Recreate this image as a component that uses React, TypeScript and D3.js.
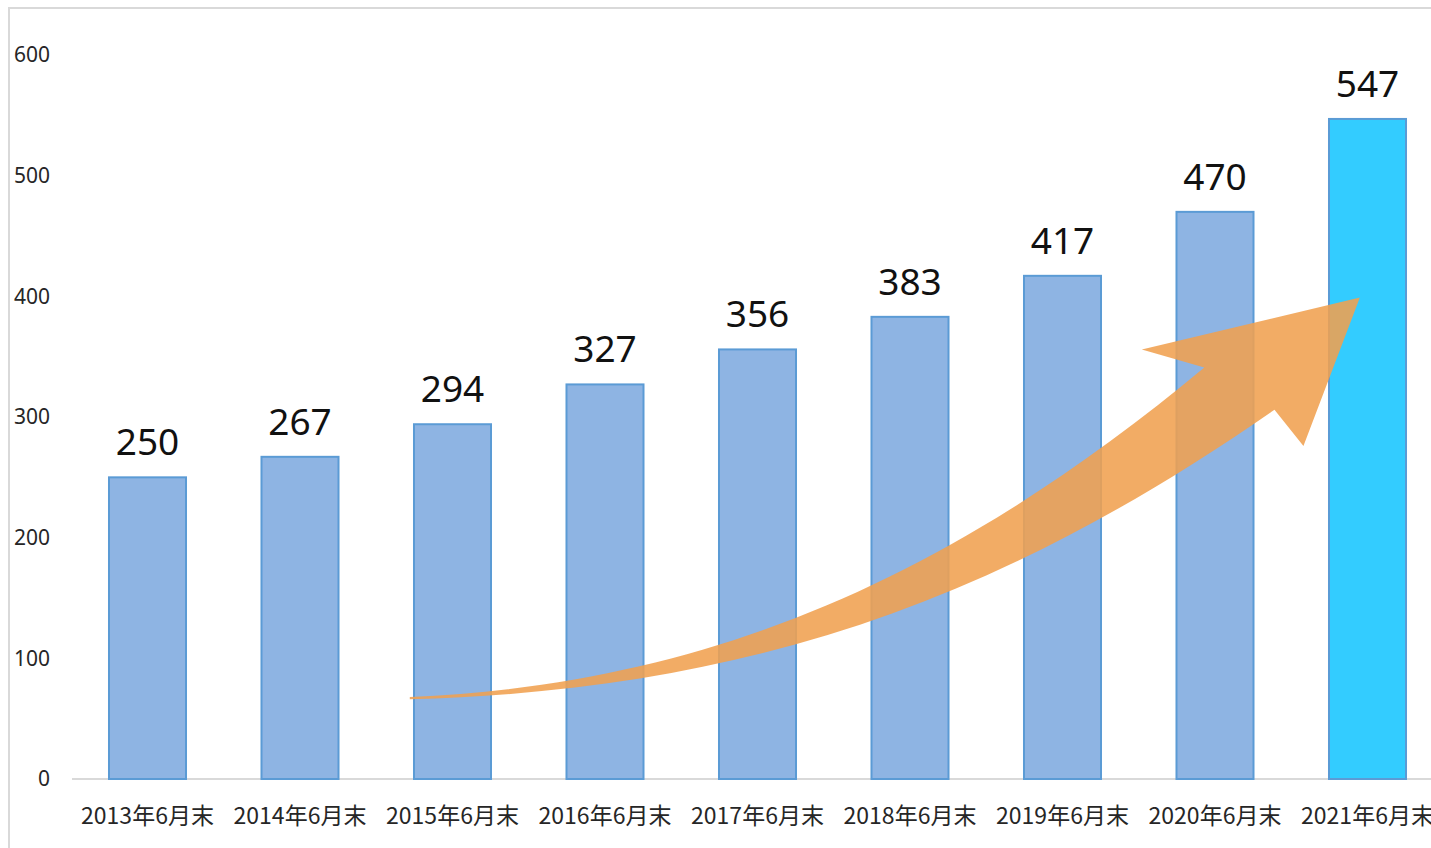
import React from "react";
import * as d3 from "d3";

const categories = ["2013年6月末", "2014年6月末", "2015年6月末", "2016年6月末", "2017年6月末", "2018年6月末", "2019年6月末", "2020年6月末", "2021年6月末"];
const values = [250, 267, 294, 327, 356, 383, 417, 470, 547];
const yTicks = [0, 100, 200, 300, 400, 500, 600];
// decorative arrow outline in data units: [category index, value]
const arrowUpperStart: [number, number] = [1.72, 68];
const arrowUpperC1: [number, number] = [3.75, 79];
const arrowUpperC2: [number, number] = [5.33, 173];
const arrowNotchUpper: [number, number] = [6.93, 341];
const arrowBarbLeft: [number, number] = [6.52, 356];
const arrowTip: [number, number] = [7.95, 399];
const arrowBarbLower: [number, number] = [7.58, 276];
const arrowNotchLower: [number, number] = [7.39, 306];
const arrowLowerC1: [number, number] = [5.59, 148];
const arrowLowerC2: [number, number] = [3.95, 74];
const arrowLowerEnd: [number, number] = [1.72, 66];

const W = 1431;
const H = 848;

export default function App() {
  const x = d3.scaleBand<string>().domain(categories).range([71.25, 71.25 + 9 * 152.5]).paddingInner(0.495).paddingOuter(0.2475);
  const y = d3.scaleLinear().domain([0, 600]).range([779, 55]);
  const bw = x.bandwidth();
  const center = (c: string) => (x(c) as number) + bw / 2;
  const step = x.step();
  const c0 = center(categories[0]);
  const px = (p: [number, number]) => `${c0 + p[0] * step},${y(p[1])}`;

  const arrowPath =
    `M${px(arrowUpperStart)} C${px(arrowUpperC1)} ${px(arrowUpperC2)} ${px(arrowNotchUpper)} ` +
    `L${px(arrowBarbLeft)} L${px(arrowTip)} L${px(arrowBarbLower)} L${px(arrowNotchLower)} ` +
    `C${px(arrowLowerC1)} ${px(arrowLowerC2)} ${px(arrowLowerEnd)} Z`;

  return (
    <svg width={W} height={H} style={{ position: "absolute", left: 0, top: 0, background: "#fff" }}>
      <rect x={9} y={8} width={W + 20} height={H + 20} fill="#fff" stroke="#d9d9d9" strokeWidth={2} />
      {yTicks.map((t) => (
        <text key={t} x={50} y={y(t)} dy="0.35em" textAnchor="end" fontFamily="'Noto Sans', sans-serif" fontSize={21} fill="#262626">
          {t}
        </text>
      ))}
      <line x1={72} x2={W} y1={y(0)} y2={y(0)} stroke="#d9d9d9" strokeWidth={2} />
      {categories.map((c, i) => (
        <g key={c}>
          <rect
            x={x(c)}
            y={y(values[i])}
            width={bw}
            height={y(0) - y(values[i])}
            fill={i === categories.length - 1 ? "#33ccff" : "#8eb4e3"}
            stroke="#5b9bd5"
            strokeWidth={2}
          />
          <text x={center(c)} y={y(values[i]) - 22} textAnchor="middle" fontFamily="'Noto Sans', sans-serif" fontSize={37} fill="#111">
            {values[i]}
          </text>
          <text x={center(c)} y={824} textAnchor="middle" fontFamily="'Noto Sans CJK JP', sans-serif" fontSize={23} fill="#262626">
            {c}
          </text>
        </g>
      ))}
      <path d={arrowPath} fill="#f0a050" fillOpacity={0.88} />
    </svg>
  );
}
